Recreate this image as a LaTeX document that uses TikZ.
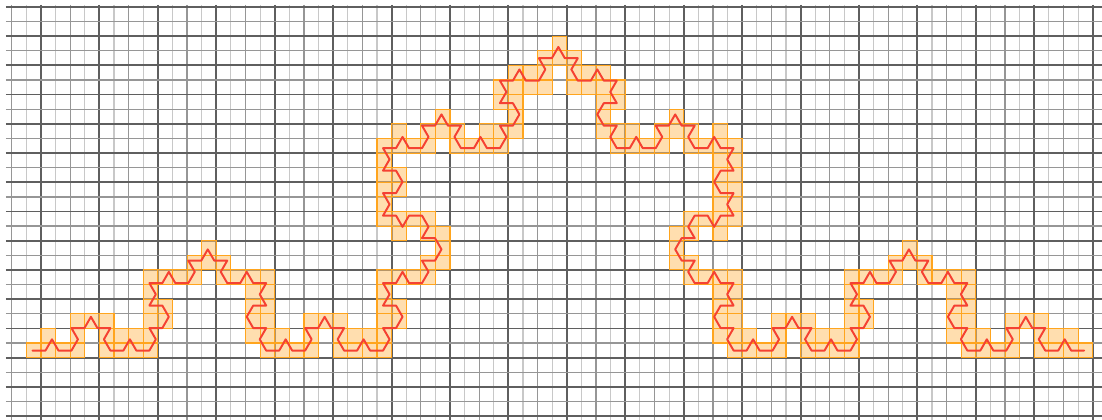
\documentclass[tikz,border=0pt]{standalone}
\definecolor{gridlight}{RGB}{200,200,200}
\definecolor{gridmid}{RGB}{150,150,150}
\definecolor{griddark}{RGB}{95,95,95}
\definecolor{boxfill}{RGB}{255,195,110}
\definecolor{boxedge}{RGB}{255,165,30}
\definecolor{curvered}{RGB}{245,65,50}
\newcount\kP \newcount\kQ \newcount\kdir
\begin{document}
\begin{tikzpicture}[x=0.5cm,y=-0.5cm,
  vminor/.style={draw=gridlight,line width=1.1pt},
  vmid/.style={draw=gridmid,line width=1.3pt},
  vmajor/.style={draw=griddark,line width=1.9pt},
  hodd/.style={draw=gridmid,line width=1.3pt},
  heven/.style={draw=griddark,line width=1.6pt},
  hfour/.style={draw=griddark,line width=1.9pt},
  cellbox/.style={fill=boxfill,fill opacity=0.55,draw=boxedge,line width=1.1pt},
  koch/.style={draw=curvered,line width=1.9pt,line join=round,line cap=round}]
\useasboundingbox (-0.8078,-0.4792) rectangle (74.636,28.206);
% grid
\foreach \i in {0,...,74}{
  \pgfmathtruncatemacro\m{mod(\i,4)}
  \ifcase\m \draw[vmid] (\i,-0.14) -- (\i,28.3);
  \or \draw[vminor] (\i,-0.14) -- (\i,28.3);
  \or \draw[vmajor] (\i,-0.14) -- (\i,28.3);
  \or \draw[vminor] (\i,-0.14) -- (\i,28.3); \fi}
\foreach \j in {0,...,28}{
  \pgfmathtruncatemacro\m{mod(\j,4)}
  \ifcase\m \draw[hfour] (-0.4,\j) -- (74.7,\j);
  \or \draw[hodd] (-0.4,\j) -- (74.7,\j);
  \or \draw[heven] (-0.4,\j) -- (74.7,\j);
  \or \draw[hodd] (-0.4,\j) -- (74.7,\j); \fi}
% Koch curve, level 4, with the covering boxes
\def\xO{1.417}\def\yO{23.52}
\global\kP=0 \global\kQ=0
\xdef\kochpath{(\xO,\yO)}
\xdef\xa{\xO}\xdef\ya{\yO}
\foreach \n in {0,...,255}{
  \pgfmathtruncatemacro\da{mod(\n,4)}
  \pgfmathtruncatemacro\db{mod(div(\n,4),4)}
  \pgfmathtruncatemacro\dc{mod(div(\n,16),4)}
  \pgfmathtruncatemacro\dd{div(\n,64)}
  \kdir=0
  \ifnum\da=1 \advance\kdir1 \fi \ifnum\da=2 \advance\kdir-1 \fi
  \ifnum\db=1 \advance\kdir1 \fi \ifnum\db=2 \advance\kdir-1 \fi
  \ifnum\dc=1 \advance\kdir1 \fi \ifnum\dc=2 \advance\kdir-1 \fi
  \ifnum\dd=1 \advance\kdir1 \fi \ifnum\dd=2 \advance\kdir-1 \fi
  \ifnum\kdir<0 \advance\kdir6 \fi
  \ifcase\kdir \global\advance\kP2
  \or \global\advance\kP1 \global\advance\kQ1
  \or \global\advance\kP-1 \global\advance\kQ1
  \or \global\advance\kP-2
  \or \global\advance\kP-1 \global\advance\kQ-1
  \or \global\advance\kP1 \global\advance\kQ-1 \fi
  \pgfmathsetmacro\xb{\xO+\the\kP*0.444444}
  \pgfmathsetmacro\yb{\yO-\the\kQ*0.769800}
  \foreach \k in {0,...,20}{
    \pgfmathsetmacro\sx{\xa+(\xb-\xa)*\k/20}
    \pgfmathsetmacro\sy{\ya+(\yb-\ya)*\k/20}
    \pgfmathtruncatemacro\cx{floor(\sx)}
    \pgfmathtruncatemacro\cy{floor(\sy)}
    \ifcsname bx@\cx @\cy\endcsname\else
      \expandafter\gdef\csname bx@\cx @\cy\endcsname{}
      \draw[cellbox] (\cx,\cy) rectangle ++(1,1);
    \fi}
  \xdef\kochpath{\kochpath -- (\xb,\yb)}
  \xdef\xa{\xb}\xdef\ya{\yb}
}
\draw[koch] \kochpath;
\end{tikzpicture}
\end{document}
